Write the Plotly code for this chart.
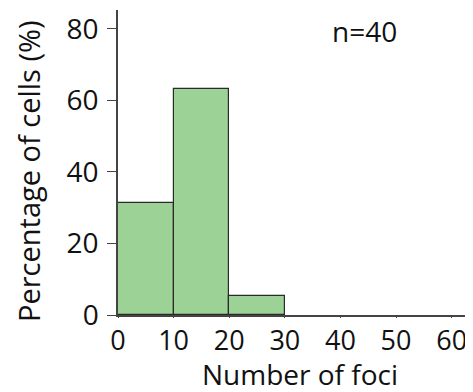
import plotly.graph_objects as go

bin_start = [0, 10, 20]
bin_width = 10
percent_cells = [31.3, 63.2, 5.2]
x_ticks = [0, 10, 20, 30, 40, 50, 60]
y_ticks = [0, 20, 40, 60, 80]
n_label = "n=40"
x_title = "Number of foci"
y_title = "Percentage of cells (%)"

centers = [s + bin_width / 2 for s in bin_start]

fig = go.Figure()
fig.add_trace(go.Bar(
    x=centers, y=percent_cells, width=[bin_width] * len(centers),
    marker=dict(color="#9dd297", line=dict(color="#2a2a2a", width=1.2)),
    showlegend=False,
))

font = "Open Sans"
OFF = 8  # default page body margin
W, H = 473 - OFF, 392 - OFF
L, R, T, B = 118 - OFF, 8, 10 - OFF, 77
pw, ph = W - L - R, H - T - B


def px(x):
    return (x - OFF - L) / pw


def py(y):
    return 1 - (y - OFF - T) / ph


fig.update_layout(
    width=W, height=H,
    margin=dict(l=L, r=R, t=T, b=B, autoexpand=False),
    paper_bgcolor="white", plot_bgcolor="white",
    font=dict(family=font, color="#111", size=28),
    bargap=0,
    xaxis=dict(range=[0, 62.4], tickvals=x_ticks, ticks="outside", ticklen=1,
               tickcolor="#444", showline=True, linecolor="#444", linewidth=1.5,
               showgrid=False, zeroline=False, tickfont=dict(size=27), automargin=False),
    yaxis=dict(range=[0, 85.3], tickvals=y_ticks, ticks="outside", ticklen=9,
               tickcolor="#444", showline=True, linecolor="#444", linewidth=1.5,
               showgrid=False, zeroline=False, tickfont=dict(size=28), automargin=False,
               ticklabelstandoff=3),
    annotations=[
        dict(text=n_label, x=px(364), y=py(31), xref="paper", yref="paper",
             showarrow=False, font=dict(size=28), xanchor="center", yanchor="middle"),
        dict(text=x_title, x=px(300), y=py(374), xref="paper", yref="paper",
             showarrow=False, font=dict(size=28), xanchor="center", yanchor="middle"),
        dict(text=y_title, x=px(28), y=py(171), xref="paper", yref="paper",
             showarrow=False, font=dict(size=29), xanchor="center", yanchor="middle",
             textangle=-90),
    ],
)
fig.write_html("out.html")
